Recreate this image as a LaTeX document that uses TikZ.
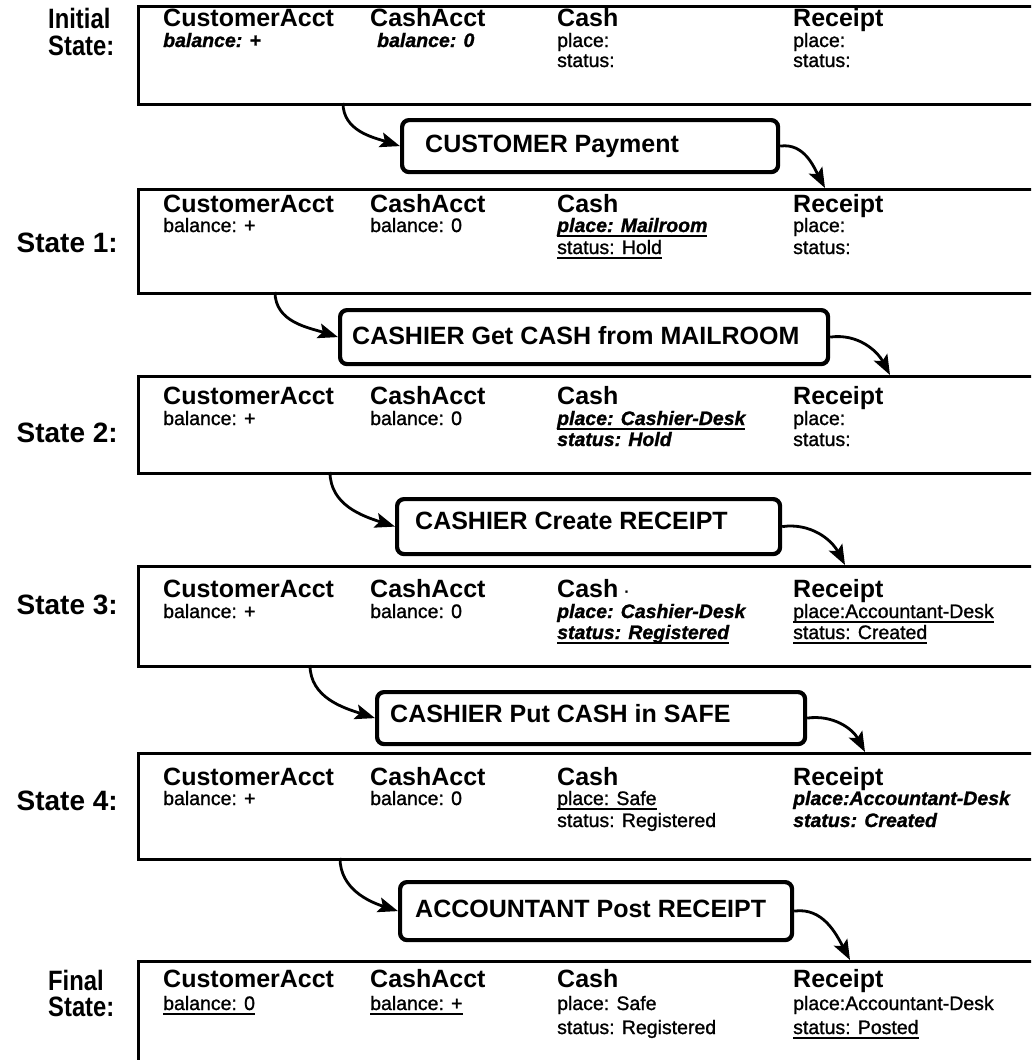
\documentclass[tikz,border=0pt]{standalone}
\usepackage{fontspec}
\setmainfont{Liberation Sans}
\newfontfamily\bodyf[FakeBold=1.2]{Liberation Sans}
\newfontfamily\lblf[FakeStretch=0.85]{Liberation Sans}
\usetikzlibrary{arrows.meta}
\newcommand\ulx[1]{\leavevmode\setbox0\hbox{#1}\rlap{\rule[-4.5pt]{\wd0}{1.8pt}}\box0}
\newcommand\bi{\bfseries\itshape}
\tikzset{
  statebox/.style={draw, line width=2.6pt, anchor=north west, minimum width=920pt, inner sep=0pt},
  actbox/.style={draw, line width=4.2pt, rounded corners=7pt, anchor=north west, inner sep=0pt},
  hdr/.style={anchor=base west, inner sep=0pt, font=\fontsize{25}{30}\selectfont\bfseries},
  val/.style={anchor=base west, inner sep=0pt, font=\bodyf\fontsize{19.5}{22}\selectfont},
  lbl/.style={inner sep=0pt, text depth=0pt, font=\lblf\fontsize{28}{32}\selectfont\bfseries},
  numlbl/.style={inner sep=0pt, text depth=0pt, anchor=base east, font=\fontsize{28}{32}\selectfont\bfseries},
  acttext/.style={anchor=base west, inner sep=0pt, font=\fontsize{25}{30}\selectfont\bfseries},
  arr/.style={line width=2.8pt, -{Stealth[length=20pt,width=15pt,inset=4pt]}}
}
\begin{document}
\begin{tikzpicture}[x=1pt,y=-1pt]
\useasboundingbox (0,0) rectangle (1031,1060);
\clip (0,0) rectangle (1031,1060);

% ---------- state boxes ----------
\node[statebox, minimum height=98pt]  (s0) at (137,5) {};
\node[statebox, minimum height=104pt] (s1) at (137,188) {};
\node[statebox, minimum height=97pt]  (s2) at (137,375) {};
\node[statebox, minimum height=100pt] (s3) at (137,565) {};
\node[statebox, minimum height=106pt] (s4) at (137,752) {};
\node[statebox, minimum height=130pt] (s5) at (137,960) {};

% ---------- labels ----------
\node[lbl, anchor=base west] (l0a) at (48,28) {Initial};
\node[lbl, anchor=base west] (l0b) at (48,55) {State:};
\node[numlbl] (l1) at (118,252) {State 1:};
\node[numlbl] (l2) at (118,442) {State 2:};
\node[numlbl] (l3) at (118,614) {State 3:};
\node[numlbl] (l4) at (118,810) {State 4:};
\node[lbl, anchor=base west] (l5a) at (48,990) {Final};
\node[lbl, anchor=base west] (l5b) at (48,1016) {State:};

% ---------- Initial state ----------
\node[hdr] (h0a) at (163,26) {CustomerAcct};
\node[hdr] (h0b) at (370,26) {CashAcct};
\node[hdr] (h0c) at (557,26) {Cash};
\node[hdr] (h0d) at (793,26) {Receipt};
\node[val] (v0a) at (163,47) {\bi balance: +};
\node[val] (v0b) at (377,47) {\bi balance: 0};
\node[val] (v0c) at (557,47) {place:};
\node[val] (v0d) at (557,67) {status:};
\node[val] (v0e) at (793,47) {place:};
\node[val] (v0f) at (793,67) {status:};

% ---------- State 1 ----------
\node[hdr] (h1a) at (163,212.5) {CustomerAcct};
\node[hdr] (h1b) at (370,212.5) {CashAcct};
\node[hdr] (h1c) at (557,212.5) {Cash};
\node[hdr] (h1d) at (793,212.5) {Receipt};
\node[val] (v1a) at (163,232) {balance: +};
\node[val] (v1b) at (370,232) {balance: 0};
\node[val] (v1c) at (557,232) {\ulx{\bi place: Mailroom}};
\node[val] (v1d) at (557,254) {\ulx{status: Hold}};
\node[val] (v1e) at (793,232) {place:};
\node[val] (v1f) at (793,254) {status:};

% ---------- State 2 ----------
\node[hdr] (h2a) at (163,404.5) {CustomerAcct};
\node[hdr] (h2b) at (370,404.5) {CashAcct};
\node[hdr] (h2c) at (557,404.5) {Cash};
\node[hdr] (h2d) at (793,404.5) {Receipt};
\node[val] (v2a) at (163,425) {balance: +};
\node[val] (v2b) at (370,425) {balance: 0};
\node[val] (v2c) at (557,425) {\ulx{\bi place: Cashier-Desk}};
\node[val] (v2d) at (557,446) {\bi status: Hold};
\node[val] (v2e) at (793,425) {place:};
\node[val] (v2f) at (793,446) {status:};

% ---------- State 3 ----------
\node[hdr] (h3a) at (163,597.5) {CustomerAcct};
\node[hdr] (h3b) at (370,597.5) {CashAcct};
\node[hdr] (h3c) at (557,597.5) {Cash\hspace{6pt}\fontsize{16}{18}\selectfont ·};
\node[hdr] (h3d) at (793,597.5) {Receipt};
\node[val] (v3a) at (163,618) {balance: +};
\node[val] (v3b) at (370,618) {balance: 0};
\node[val] (v3c) at (557,618) {\bi place: Cashier-Desk};
\node[val] (v3d) at (557,639) {\ulx{\bi status: Registered}};
\node[val] (v3e) at (793,618) {\ulx{place:Accountant-Desk}};
\node[val] (v3f) at (793,639) {\ulx{status: Created}};

% ---------- State 4 ----------
\node[hdr] (h4a) at (163,785.5) {CustomerAcct};
\node[hdr] (h4b) at (370,785.5) {CashAcct};
\node[hdr] (h4c) at (557,785.5) {Cash};
\node[hdr] (h4d) at (793,785.5) {Receipt};
\node[val] (v4a) at (163,805) {balance: +};
\node[val] (v4b) at (370,805) {balance: 0};
\node[val] (v4c) at (557,805) {\ulx{place: Safe}};
\node[val] (v4d) at (557,827) {status: Registered};
\node[val] (v4e) at (793,805) {\bi place:Accountant-Desk};
\node[val] (v4f) at (793,827) {\bi status: Created};

% ---------- Final state ----------
\node[hdr] (h5a) at (163,987.5) {CustomerAcct};
\node[hdr] (h5b) at (370,987.5) {CashAcct};
\node[hdr] (h5c) at (557,987.5) {Cash};
\node[hdr] (h5d) at (793,987.5) {Receipt};
\node[val] (v5a) at (163,1010) {\ulx{balance: 0}};
\node[val] (v5b) at (370,1010) {\ulx{balance: +}};
\node[val] (v5c) at (557,1010) {place: Safe};
\node[val] (v5d) at (557,1034) {status: Registered};
\node[val] (v5e) at (793,1010) {place:Accountant-Desk};
\node[val] (v5f) at (793,1034) {\ulx{status: Posted}};

% ---------- action boxes ----------
\node[actbox, minimum width=376pt, minimum height=52pt] (a1) at (400,118) {};
\node[actbox, minimum width=488pt, minimum height=54pt] (a2) at (338,308) {};
\node[actbox, minimum width=383pt, minimum height=55pt] (a3) at (395,497) {};
\node[actbox, minimum width=428pt, minimum height=52pt] (a4) at (375,690) {};
\node[actbox, minimum width=392pt, minimum height=58pt] (a5) at (398,880) {};
\node[acttext] (t1) at (425,152) {CUSTOMER Payment};
\node[acttext] (t2) at (352,344) {CASHIER Get CASH from MAILROOM};
\node[acttext] (t3) at (415,529) {CASHIER Create RECEIPT};
\node[acttext] (t4) at (390,722) {CASHIER Put CASH in SAFE};
\node[acttext] (t5) at (415,917) {ACCOUNTANT Post RECEIPT};

% ---------- connector end points ----------
\coordinate (b0) at (343,103);
\coordinate (b1) at (275,292);
\coordinate (b2) at (330,472);
\coordinate (b3) at (310,665);
\coordinate (b4) at (340,858);
\coordinate (e1) at (825,188);
\coordinate (e2) at (890,375);
\coordinate (e3) at (845,565);
\coordinate (e4) at (865,752);
\coordinate (e5) at (850,960);

% ---------- connectors ----------
\draw[arr] (b0) to[out=-90,in=162] (a1.west);
\draw[arr] (a1.east) to[out=8,in=118] (e1);
\draw[arr] (b1) to[out=-90,in=162] (a2.west);
\draw[arr] (a2.east) to[out=8,in=118] (e2);
\draw[arr] (b2) to[out=-90,in=162] (a3.west);
\draw[arr] (a3.east) to[out=8,in=118] (e3);
\draw[arr] (b3) to[out=-90,in=162] (a4.west);
\draw[arr] (a4.east) to[out=8,in=118] (e4);
\draw[arr] (b4) to[out=-90,in=162] (a5.west);
\draw[arr] (a5.east) to[out=8,in=118] (e5);
\end{tikzpicture}
\end{document}
